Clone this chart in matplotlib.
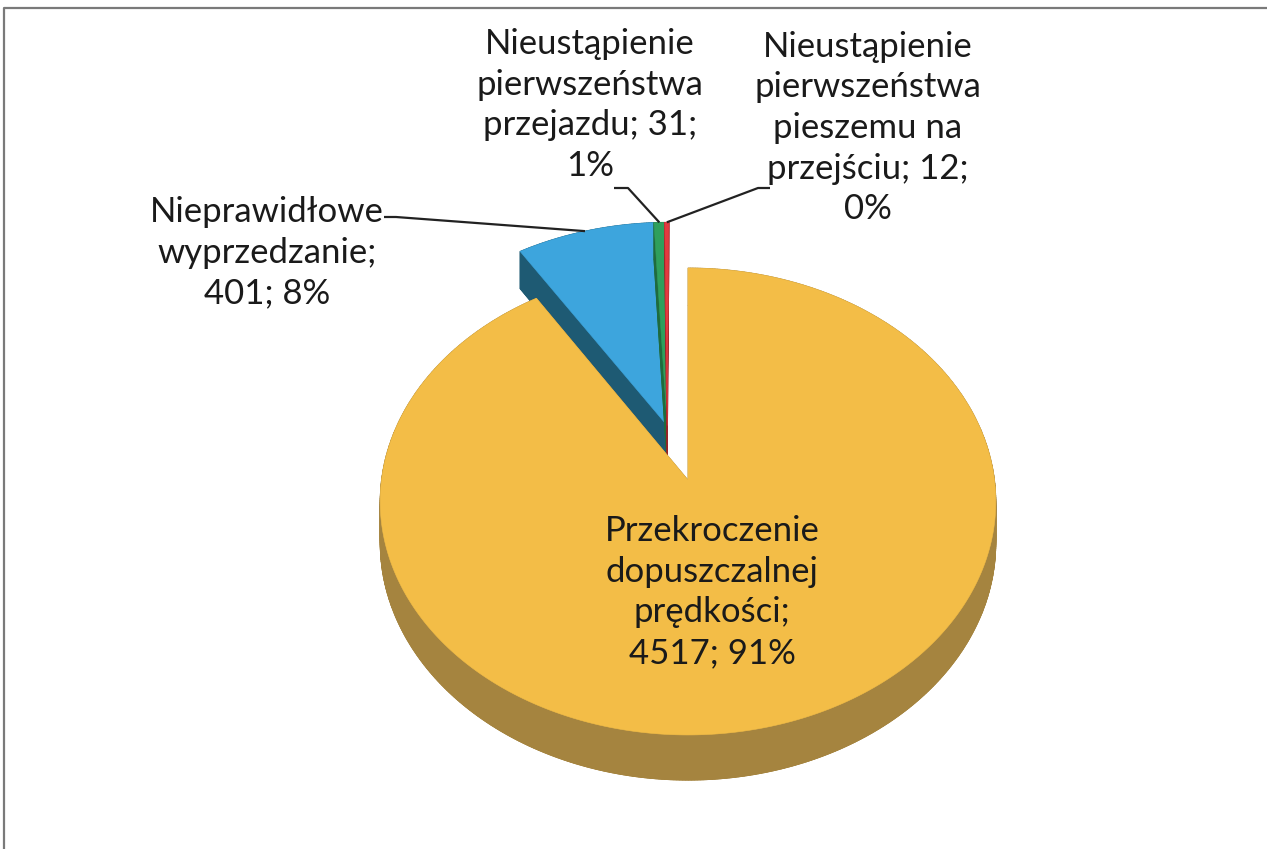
import numpy as np
import matplotlib.pyplot as plt
from matplotlib.patches import Polygon

# data
categories = [
    "Przekroczenie\ndopuszczalnej\nprędkości",
    "Nieprawidłowe\nwyprzedzanie",
    "Nieustąpienie\npierwszeństwa\nprzejazdu",
    "Nieustąpienie\npierwszeństwa\npieszemu na\nprzejściu",
]
values = [4517, 401, 31, 12]
label_fmt = ["{n};\n{v}; {p}%", "{n};\n{v}; {p}%", "{n}; {v};\n{p}%", "{n}; {v};\n{p}%"]

top_colors = ["#F3BD47", "#3DA5DD", "#2F9F5C", "#E23A3F"]
side_colors = ["#A5843F", "#1E5A73", "#1F6B3D", "#9A2328"]

# 3d pie layout (pixel space)
CX, CY = 688, 480
A, B = 306.5, 231.5
K = 0.092
DEPTH = 41
EXPLODE = 0.25

# label layout: centre of text block, and leader line knee points
label_xy = [(712, 592), (267, 253), (590, 105), (868, 128)]
leader_pts = [None, [(384, 217), (396, 217)], [(614, 188), (628, 188)], [(770, 188), (758, 188)]]


def proj(u, v, z=0.0):
    s = 1.0 + K * v
    return CX + A * u / s, CY - B * v / s + z / s


def slice_outline(t1, t2, off):
    th = np.radians(np.linspace(t1, t2, max(4, int((t2 - t1) * 2))))
    pts = [(off[0], off[1])]
    pts += [(off[0] + np.sin(t), off[1] + np.cos(t)) for t in th]
    return pts


def main():
    plt.rcParams["font.family"] = ["Lato", "DejaVu Sans"]
    fig = plt.figure(figsize=(12.67, 8.49), dpi=100)
    ax = fig.add_axes([0, 0, 1, 1])
    ax.set_xlim(0, 1267)
    ax.set_ylim(849, 0)
    ax.axis("off")

    total = sum(values)
    fracs = [v / total for v in values]
    edges = np.concatenate([[0], np.cumsum(fracs) * 360])

    # first slice stays, the rest are pulled away from it
    mid0 = np.radians((edges[0] + edges[1]) / 2)
    shift = (-EXPLODE * np.sin(mid0), -EXPLODE * np.cos(mid0))

    order = [1, 2, 3, 0]
    anchors = {}
    for i in order:
        off = (0.0, 0.0) if i == 0 else shift
        pts = slice_outline(edges[i], edges[i + 1], off)
        top = [proj(u, v) for u, v in pts]
        bot = [proj(u, v, DEPTH) for u, v in pts]
        sc = side_colors[i]
        ax.add_patch(Polygon(bot, closed=True, fc=sc, ec=sc, lw=0.6))
        n = len(top)
        for j in range(n):
            k = (j + 1) % n
            ax.add_patch(Polygon([top[j], top[k], bot[k], bot[j]], closed=True, fc=sc, ec=sc, lw=0.6))
        ax.add_patch(Polygon(top, closed=True, fc=top_colors[i], ec=top_colors[i], lw=0.4))
        tm = np.radians((edges[i] + edges[i + 1]) / 2)
        anchors[i] = proj(off[0] + np.sin(tm), off[1] + np.cos(tm))

    for i in range(len(values)):
        pct = int(round(fracs[i] * 100))
        txt = label_fmt[i].format(n=categories[i], v=values[i], p=pct)
        x, y = label_xy[i]
        ax.text(x, y, txt, ha="center", va="center", fontsize=25, color="#1a1a1a",
                linespacing=1.33)
        if leader_pts[i] is not None:
            xs = [p[0] for p in leader_pts[i]] + [anchors[i][0]]
            ys = [p[1] for p in leader_pts[i]] + [anchors[i][1]]
            ax.plot(xs, ys, color="#222222", lw=1.6, solid_capstyle="butt")

    # chart frame (top and left edges visible in the scan)
    ax.plot([4, 4, 1267], [849, 8, 8], color="#7a7a7a", lw=1.6)

    fig.savefig("out.png", dpi=100, facecolor="white")
    plt.close(fig)


if __name__ == "__main__":
    main()
